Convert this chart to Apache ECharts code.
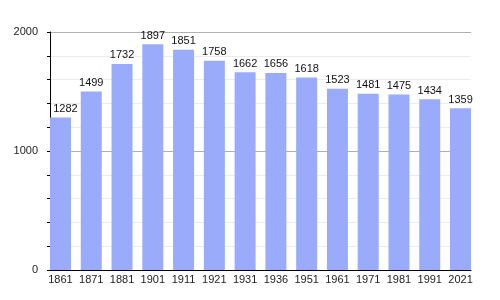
<!DOCTYPE html>
<html>
<head>
<meta charset="utf-8">
<script src="https://cdn.jsdelivr.net/npm/echarts@6/dist/echarts.min.js"></script>
<style>html,body{margin:0;padding:0;background:#fff}#c{width:500px;height:300px}</style>
</head>
<body>
<div id="c"></div>
<script>
var years = ['1861','1871','1881','1901','1911','1921','1931','1936','1951','1961','1971','1981','1991','2021'];
var population = [1282,1499,1732,1897,1851,1758,1662,1656,1618,1523,1481,1475,1434,1359];
var yTicks = [0,1000,2000];

var chart = echarts.init(document.getElementById('c'), null, {renderer:'canvas'});
var font = 'Liberation Sans, Arial, sans-serif';
var barData = population.map(function(v, i){
  return i === 0 ? {value:v, label:{offset:[5,0]}} : v;
});
chart.setOption({
  animation:false,
  backgroundColor:'#fff',
  grid:[
    {left:45.1, right:24.1, top:32, bottom:30},
    {left:50, right:29, top:32, bottom:30}
  ],
  xAxis:[
    {type:'category', gridIndex:0, data:years,
     axisLine:{show:false}, axisTick:{show:false},
     axisLabel:{interval:0, color:'#222', fontSize:11, fontFamily:font, margin:4}},
    {type:'value', gridIndex:1, min:0, max:1,
     axisLine:{show:true, lineStyle:{color:'#000', width:1}},
     axisTick:{show:false}, axisLabel:{show:false}, splitLine:{show:false}}
  ],
  yAxis:[
    {type:'value', gridIndex:0, min:yTicks[0], max:yTicks[yTicks.length-1], show:false, splitLine:{show:false}},
    {type:'value', gridIndex:1, min:yTicks[0], max:yTicks[yTicks.length-1], interval:1000,
     axisLine:{show:true, lineStyle:{color:'#000', width:1}},
     axisTick:{show:true, length:3, lineStyle:{color:'#000'}},
     minorTick:{show:true, splitNumber:5, length:3, lineStyle:{color:'#000'}},
     splitLine:{show:true, lineStyle:{color:'#b0b0b0', width:1}},
     minorSplitLine:{show:true, lineStyle:{color:'#ececec', width:1}},
     axisLabel:{color:'#222', fontSize:11, fontFamily:font, margin:12,
       formatter:function(v){return String(v);}}}
  ],
  series:[{
    type:'bar', xAxisIndex:0, yAxisIndex:0, data:barData,
    barWidth:21,
    itemStyle:{color:'#9aabfb'},
    label:{show:true, position:'top', distance:3, color:'#111', fontSize:11, fontFamily:font}
  }]
});
</script>
</body>
</html>
